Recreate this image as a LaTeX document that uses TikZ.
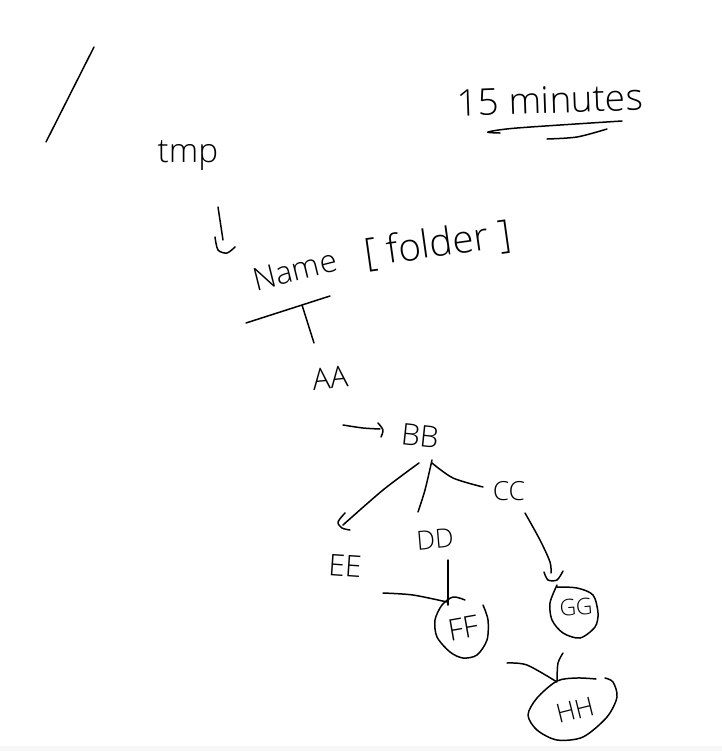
\documentclass[tikz,border=0pt]{standalone}
\usepackage{fontspec}
\setmainfont{Open Sans Light}
\usetikzlibrary{positioning}
\tikzset{
	sketch/.style={line width=0.85pt,line cap=round,line join=round},
	hand/.style={inner sep=0pt,font=\fontsize{#1}{#1}\selectfont},
	hand/.default=17pt
}
\begin{document}
\begin{tikzpicture}[x=0.02cm,y=-0.02cm]
		\useasboundingbox (0,0) rectangle (722,751);
		\fill[white] (0,0) rectangle (722,751);
		\fill[black!3] (0,746) rectangle (722,751);
		%labels
		\foreach \Point/\Nom/\Texte/\Rot/\Taille in {(188,156)/tmp/tmp/0/19pt,(550,100)/minutes/15 minutes/2/21pt,(295,270)/name/Name/14/18pt,(438,245)/folder/[ folder ]/8/22pt,(330,378)/aa/AA/6/17pt,(420,436)/bb/BB/-6/17pt,(509,491)/cc/CC/0/15pt,(435,539)/dd/DD/5/15pt,(345,566)/ee/EE/-4/17pt,(463,628)/ff/FF/10/17pt,(576,607)/gg/GG/5/13pt,(575,710)/hh/HH/14/15pt}%
		\path \Point node[hand=\Taille,rotate=\Rot] (\Nom) {\Texte};
		%free ends
		\foreach \Point/\Nom in {(46,142)/slashbot,(94,47)/slashtop,(218,207)/tmpstart,(223,240)/tmpend,(246,323)/barleft,(330,296)/barright,(302,305)/stemtop,(314,343)/stemend}%
		\path \Point coordinate (\Nom);
		%strokes
		\draw[sketch] (slashbot)--(slashtop);
		\draw[sketch] (tmpstart)--(tmpend);
		\draw[sketch] plot[smooth] coordinates {(215,237) (218,250) (227,253) (235,247)};
		\draw[sketch] (barleft)--(barright) (stemtop)--(stemend);
		\draw[sketch] plot[smooth] coordinates {(622,121) (517,128) (488,132) (500,133)};
		\draw[sketch] plot[smooth] coordinates {(547,139) (577,137) (607,129)};
		%arrows
		\draw[sketch] plot[smooth] coordinates {(343,425) (363,428) (380,429)};
		\draw[sketch] plot[smooth] coordinates {(378,423) (383,430) (381,437)};
		\draw[sketch] plot[smooth] coordinates {(419,463) (383,490) (343,525)};
		\draw[sketch] plot[smooth] coordinates {(345,513) (338,522) (342,528) (350,530)};
		\draw[sketch] plot[smooth] coordinates {(432,460) (425,490) (418,512)};
		\draw[sketch] plot[smooth] coordinates {(432,463) (453,478) (483,487)};
		\draw[sketch] plot[smooth] coordinates {(525,513) (540,540) (550,562) (551,573)};
		\draw[sketch] plot[smooth] coordinates {(544,572) (548,580) (557,580) (563,571)};
		\draw[sketch] (448,560)--(448,605);
		\draw[sketch] plot[smooth] coordinates {(383,593) (413,595) (447,602)};
		\draw[sketch] plot[smooth] coordinates {(507,663) (527,665) (557,682)};
		\draw[sketch] plot[smooth] coordinates {(563,653) (558,663) (557,680)};
		%circles
		\draw[sketch] plot[smooth] coordinates {(465,600) (453,597) (442,605) (435,620) (437,637) (450,652) (463,658) (477,655) (487,640) (488,620) (483,605)};
		\draw[sketch] plot[smooth] coordinates {(557,585) (550,603) (552,620) (563,633) (580,638) (595,627) (598,613) (593,595) (577,588) (557,587)};
		\draw[sketch] plot[smooth] coordinates {(596,679) (577,678) (557,681) (537,698) (528,715) (537,730) (557,740) (583,737) (607,717) (617,697) (613,682) (605,678)};
	\end{tikzpicture}
\end{document}
